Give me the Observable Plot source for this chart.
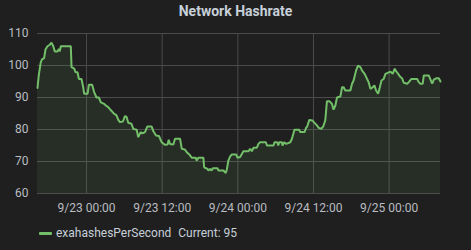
<!DOCTYPE html>
<html>
<head>
<meta charset="utf-8">
<script src="https://cdn.jsdelivr.net/npm/d3@7"></script>
<script src="https://cdn.jsdelivr.net/npm/@observablehq/plot@0.6"></script>
<style>
  html, body { margin: 0; padding: 0; background: #1f1f1f; }
  #wrap { position: relative; width: 471px; height: 250px; background: #1f1f1f; font-family: Roboto, "Noto Sans", sans-serif; overflow: hidden; }
  #title { position: absolute; left: 0; top: 3px; width: 471px; text-align: center; font-size: 14px; font-weight: bold; color: #c7d0d9; }
  #legend { position: absolute; left: 39px; top: 226px; font-size: 12px; color: #c7d0d9; display: flex; align-items: center; white-space: nowrap; }
  #legend .sw { display: inline-block; width: 13px; height: 3px; background: #73bf69; margin-right: 4px; border-radius: 1px; }
  #legend .cur { margin-left: 7px; }
  #chart { position: absolute; left: 0; top: 0; }
</style>
</head>
<body>
<div id="wrap">
  <div id="chart"></div>
  <div id="title">Network Hashrate</div>
  <div id="legend"><span class="sw"></span><span>exahashesPerSecond</span><span class="cur">Current: 95</span></div>
</div>
<script>
const seriesName = "exahashesPerSecond";
const times = [
  "2022-09-22T16:13","2022-09-22T16:25","2022-09-22T16:44","2022-09-22T16:56","2022-09-22T17:16","2022-09-22T17:29",
  "2022-09-22T17:48","2022-09-22T18:10","2022-09-22T18:26","2022-09-22T18:41","2022-09-22T18:58","2022-09-22T19:23",
  "2022-09-22T19:36","2022-09-22T19:45","2022-09-22T19:55","2022-09-22T21:30","2022-09-22T21:37","2022-09-22T22:02",
  "2022-09-22T22:15","2022-09-22T22:34","2022-09-22T22:47","2022-09-22T23:12","2022-09-22T23:28","2022-09-22T23:37",
  "2022-09-23T00:10","2022-09-23T00:22","2022-09-23T00:53","2022-09-23T01:12","2022-09-23T01:35","2022-09-23T01:57",
  "2022-09-23T02:16","2022-09-23T02:48","2022-09-23T03:04","2022-09-23T03:26","2022-09-23T03:52","2022-09-23T04:23",
  "2022-09-23T04:44","2022-09-23T05:01","2022-09-23T05:17","2022-09-23T05:46","2022-09-23T06:05","2022-09-23T06:20",
  "2022-09-23T06:37","2022-09-23T07:07","2022-09-23T07:25","2022-09-23T07:57","2022-09-23T08:12","2022-09-23T08:35",
  "2022-09-23T08:52","2022-09-23T09:16","2022-09-23T09:38","2022-09-23T10:20","2022-09-23T10:35","2022-09-23T11:01",
  "2022-09-23T11:29","2022-09-23T11:55","2022-09-23T12:27","2022-09-23T12:51","2022-09-23T13:02","2022-09-23T13:14",
  "2022-09-23T13:46","2022-09-23T14:02","2022-09-23T14:50","2022-09-23T15:06","2022-09-23T15:37","2022-09-23T15:54",
  "2022-09-23T16:18","2022-09-23T16:41","2022-09-23T17:19","2022-09-23T17:29","2022-09-23T17:44","2022-09-23T18:32",
  "2022-09-23T18:39","2022-09-23T19:10","2022-09-23T19:20","2022-09-23T19:36","2022-09-23T19:50","2022-09-23T20:02",
  "2022-09-23T20:46","2022-09-23T20:55","2022-09-23T21:43","2022-09-23T22:05","2022-09-23T22:15","2022-09-23T22:30",
  "2022-09-23T22:46","2022-09-23T23:03","2022-09-23T23:44","2022-09-23T23:56","2022-09-24T00:22","2022-09-24T00:53",
  "2022-09-24T01:41","2022-09-24T01:57","2022-09-24T02:13","2022-09-24T02:29","2022-09-24T03:01","2022-09-24T03:16",
  "2022-09-24T03:32","2022-09-24T04:27","2022-09-24T04:37","2022-09-24T05:40","2022-09-24T05:49","2022-09-24T06:15",
  "2022-09-24T06:25","2022-09-24T06:34","2022-09-24T06:59","2022-09-24T07:05","2022-09-24T07:21","2022-09-24T07:41",
  "2022-09-24T08:19","2022-09-24T08:35","2022-09-24T08:59","2022-09-24T09:44","2022-09-24T09:54","2022-09-24T10:35",
  "2022-09-24T10:49","2022-09-24T11:01","2022-09-24T11:20","2022-09-24T11:51","2022-09-24T12:12","2022-09-24T12:33",
  "2022-09-24T12:50","2022-09-24T13:14","2022-09-24T13:33","2022-09-24T13:52","2022-09-24T14:08","2022-09-24T14:33",
  "2022-09-24T14:56","2022-09-24T15:11","2022-09-24T15:28","2022-09-24T15:44","2022-09-24T16:16","2022-09-24T16:32",
  "2022-09-24T16:47","2022-09-24T17:03","2022-09-24T17:51","2022-09-24T18:07","2022-09-24T18:22","2022-09-24T18:45",
  "2022-09-24T19:04","2022-09-24T19:26","2022-09-24T19:43","2022-09-24T20:07","2022-09-24T20:30","2022-09-24T20:45",
  "2022-09-24T21:02","2022-09-24T21:24","2022-09-24T21:40","2022-09-24T21:56","2022-09-24T22:15","2022-09-24T22:28",
  "2022-09-24T22:47","2022-09-24T23:08","2022-09-24T23:25","2022-09-25T00:13","2022-09-25T00:34","2022-09-25T00:53",
  "2022-09-25T01:07","2022-09-25T01:26","2022-09-25T01:47","2022-09-25T02:04","2022-09-25T02:19","2022-09-25T02:52",
  "2022-09-25T03:07","2022-09-25T03:32","2022-09-25T04:27","2022-09-25T04:42","2022-09-25T04:58","2022-09-25T05:20",
  "2022-09-25T05:30","2022-09-25T06:17","2022-09-25T06:34","2022-09-25T06:50","2022-09-25T07:05","2022-09-25T07:28",
  "2022-09-25T07:53","2022-09-25T08:09"
];
const values = [
  93,96.9,101,101.9,102.3,105,
  106,106.5,107.1,106.2,104.4,104.4,
  105.2,104.4,106,106,99.5,99,
  97.9,97.9,95.8,95.8,93.2,91.2,
  91.2,94,94,91.7,90,90,
  88.5,88,87.5,87,86,84.9,
  84.5,83.1,82.3,82.5,84.2,84,
  82.1,81.8,80.2,79.9,77.6,79.2,
  78.8,79.2,80.9,80.9,79.5,78.1,
  78,76,75.2,75.3,76.8,75.5,
  75.3,77.1,77.1,74,73.7,72.9,
  72.2,71.2,71.2,70.3,71.2,71.2,
  68.2,67.7,67.2,67.7,67.2,67.9,
  67.9,67.2,67.2,66.4,67.5,70.3,
  71.5,72.2,72.2,71.2,71.4,73.2,
  73.2,74,73.2,74.3,74.3,75.5,
  76,76,75,75,76,76,
  75,76,76,75,76,75.5,
  76,77.1,79.9,79.9,79.2,79.2,
  80.5,81,83,82.8,82,81.3,
  80.5,80.2,81,82.8,88.8,88.8,
  88,86.2,87.5,90,90.3,93.2,
  93.2,92.2,92.2,94.3,95.3,98.4,
  100,99.5,98.4,97.4,95.8,94.8,
  92.7,93.2,93.8,92.2,91.2,92.7,
  95.3,95.8,97.4,98.1,97.4,99,
  98.2,97.4,96.4,96,94.6,94.3,
  94.8,95.8,95.8,94.8,94.3,94.3,
  96.9,96.9,95.6,94.3,95.6,96,
  96,95
];
const yTicks = [60, 70, 80, 90, 100, 110];
const xTickLabels = ["9/23 00:00", "9/23 12:00", "9/24 00:00", "9/24 12:00", "9/25 00:00"];
const xTickTimes = ["2022-09-23T00:00", "2022-09-23T12:00", "2022-09-24T00:00", "2022-09-24T12:00", "2022-09-25T00:00"];

const data = times.map((t, i) => ({ t: new Date(t + "Z"), v: values[i] }));
const xt = xTickTimes.map(t => new Date(t + "Z"));
const labelOf = new Map(xt.map((d, i) => [+d, xTickLabels[i]]));

const green = "#73bf69";
const grid = "#4b4b4b";

const chart = Plot.plot({
  width: 471,
  height: 250,
  marginTop: 33,
  marginBottom: 57,
  marginLeft: 37,
  marginRight: 31,
  style: { background: "transparent", fontFamily: "Roboto, 'Noto Sans', sans-serif", fontSize: "12px", color: "#b9bcc0" },
  x: { type: "utc", domain: [data[0].t, data[data.length - 1].t], label: null },
  y: { domain: [60, 110], label: null },
  marks: [
    Plot.ruleY(yTicks, { stroke: grid, strokeWidth: 1 }),
    Plot.ruleX(xt, { stroke: grid, strokeWidth: 1 }),
    Plot.areaY(data, { x: "t", y1: 60, y2: "v", fill: green, fillOpacity: 0.1 }),
    Plot.lineY(data, { x: "t", y: "v", stroke: green, strokeWidth: 2, strokeLinejoin: "miter" }),
    Plot.axisY(yTicks, { tickSize: 0, tickPadding: 9, fill: "#b9bcc0", fontSize: 12, label: null }),
    Plot.axisX(xt, { tickSize: 0, tickPadding: 10, tickFormat: d => labelOf.get(+d), fill: "#b9bcc0", fontSize: 12, label: null })
  ]
});
document.getElementById("chart").appendChild(chart);
</script>
</body>
</html>
